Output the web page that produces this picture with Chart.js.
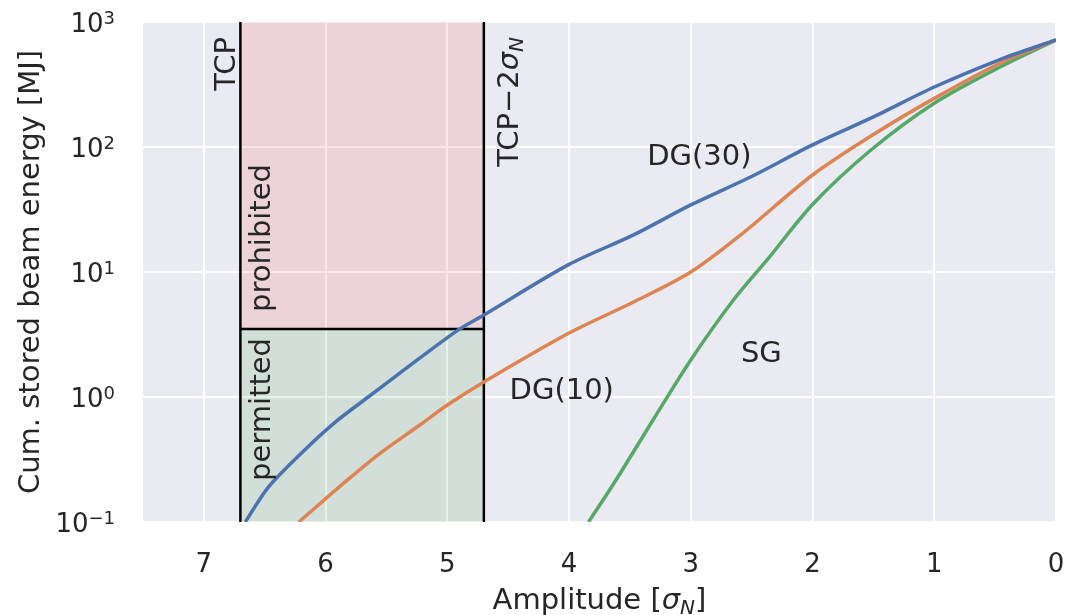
<!DOCTYPE html>
<html lang="en">
<head>
  <meta charset="UTF-8"/>
  <title>Cumulative stored beam energy</title>
  <script src="https://cdn.jsdelivr.net/npm/chart.js"></script>
  <style>
    body { margin: 0; background: #fff; }
    #wrap { width: 1068px; height: 615px; }
  </style>
</head>
<body>
  <div id="wrap"><canvas id="energyChart"></canvas></div>
  <script>
    // Curves (amplitude in sigma_N, energy in MJ)
    const dg30Amp    = [6.66, 6.47, 6.2, 5.93, 5.65, 5.38, 4.91, 4.70, 4.0, 3.47, 3.0, 2.51, 2.0, 1.5, 1.0, 0.46, 0];
    const dg30Energy = [0.1, 0.19, 0.355, 0.619, 1.0, 1.58, 3.44, 4.53, 11.5, 19.8, 34.4, 57.5, 104, 174, 302, 501, 718];

    const dg10Amp    = [6.22, 5.82, 5.55, 5.22, 5.0, 4.70, 4.0, 3.47, 3.0, 2.59, 2.0, 1.5, 1.0, 0.46, 0];
    const dg10Energy = [0.1, 0.217, 0.356, 0.603, 0.863, 1.32, 3.25, 5.75, 10.0, 19.8, 59.7, 126, 245, 468, 718];

    const sgAmp      = [3.84, 3.63, 3.31, 3.0, 2.65, 2.37, 2.0, 1.52, 1.0, 0.46, 0];
    const sgEnergy   = [0.1, 0.205, 0.655, 1.98, 5.97, 12.6, 34.7, 94.6, 224, 437, 718];

    const xTicks = [0, 1, 2, 3, 4, 5, 6, 7];
    const yTicks = [0.1, 1, 10, 100, 1000];
    const yTickExp = ['\u22121', '0', '1', '2', '3'];

    // collimator settings and energy limit
    const tcpAmp = 6.7;
    const tcp2Amp = 4.7;
    const energyLimit = 3.5;

    const FONT = '"DejaVu Sans", sans-serif';
    const TEXT = '#262626';

    function toPoints(xs, ys) {
      return xs.map((x, i) => ({ x: x, y: ys[i] }));
    }

    // draw a row of text runs (for sub/superscripts) at baseline y
    function drawRuns(ctx, runs, x, y, align) {
      const widths = runs.map(r => { ctx.font = r.font; return ctx.measureText(r.t).width; });
      const total = widths.reduce((a, b) => a + b, 0);
      let cx = align === 'center' ? x - total / 2 : align === 'right' ? x - total : x;
      ctx.textAlign = 'left';
      ctx.textBaseline = 'alphabetic';
      runs.forEach((r, i) => {
        ctx.font = r.font;
        ctx.fillText(r.t, cx, y + (r.dy || 0));
        cx += widths[i];
      });
    }

    function drawRotated(ctx, runs, x, y, align) {
      ctx.save();
      ctx.translate(x, y);
      ctx.rotate(-Math.PI / 2);
      drawRuns(ctx, runs, 0, 0, align);
      ctx.restore();
    }

    const big = '29px ' + FONT;
    const bigIt = 'italic 29px ' + FONT;
    const subIt = 'italic 20px ' + FONT;

    const decorations = {
      id: 'decorations',
      beforeDraw(chart) {
        const { ctx, chartArea: a } = chart;
        ctx.save();
        ctx.fillStyle = '#EAEAF2';
        ctx.fillRect(a.left, a.top, a.right - a.left, a.bottom - a.top);
        ctx.restore();
      },
      beforeDatasetsDraw(chart) {
        const { ctx, chartArea: a, scales: { x, y } } = chart;
        const x1 = x.getPixelForValue(tcpAmp);
        const x2 = x.getPixelForValue(tcp2Amp);
        const yl = y.getPixelForValue(energyLimit);
        ctx.save();
        ctx.fillStyle = 'rgba(255,0,0,0.1)';
        ctx.fillRect(x1, a.top, x2 - x1, yl - a.top);
        ctx.fillStyle = 'rgba(0,128,0,0.1)';
        ctx.fillRect(x1, yl, x2 - x1, a.bottom - yl);
        ctx.strokeStyle = '#000';
        ctx.lineWidth = 2.5;
        ctx.beginPath();
        ctx.moveTo(x1, a.top); ctx.lineTo(x1, a.bottom);
        ctx.moveTo(x2, a.top); ctx.lineTo(x2, a.bottom);
        ctx.moveTo(x1, yl); ctx.lineTo(x2, yl);
        ctx.stroke();
        ctx.restore();
      },
      afterDraw(chart) {
        const { ctx, chartArea: a, scales: { x, y } } = chart;
        ctx.save();
        ctx.fillStyle = TEXT;

        // y tick labels as powers of ten
        yTicks.forEach((v, i) => {
          const py = y.getPixelForValue(v);
          drawRuns(ctx, [
            { t: '10', font: '26px ' + FONT },
            { t: yTickExp[i], font: '18px ' + FONT, dy: -8 }
          ], 115, py + 10, 'right');
        });

        // axis titles
        drawRuns(ctx, [
          { t: 'Amplitude [', font: big },
          { t: '\u03c3', font: bigIt },
          { t: 'N', font: subIt, dy: 5 },
          { t: ']', font: big }
        ], (a.left + a.right) / 2, 609, 'center');
        drawRotated(ctx, [{ t: 'Cum. stored beam energy [MJ]', font: big }], 39, (a.top + a.bottom) / 2, 'center');

        // vertical labels next to the collimator lines
        const x1 = x.getPixelForValue(tcpAmp);
        const x2 = x.getPixelForValue(tcp2Amp);
        const yl = y.getPixelForValue(energyLimit);
        drawRotated(ctx, [{ t: 'TCP', font: big }], x1 - 5, a.top + 15, 'right');
        drawRotated(ctx, [
          { t: 'TCP\u22122', font: big },
          { t: '\u03c3', font: bigIt },
          { t: 'N', font: subIt, dy: 5 }
        ], x2 + 34, a.top + 15, 'right');
        drawRotated(ctx, [{ t: 'prohibited', font: big }], x1 + 30, yl - 17, 'left');
        drawRotated(ctx, [{ t: 'permitted', font: big }], x1 + 30, yl + 9, 'right');

        // curve labels
        ctx.font = big;
        ctx.textAlign = 'center';
        ctx.textBaseline = 'alphabetic';
        ctx.fillText('DG(30)', x.getPixelForValue(2.93), y.getPixelForValue(71.8));
        ctx.fillText('DG(10)', x.getPixelForValue(4.06), y.getPixelForValue(0.964));
        ctx.fillText('SG', x.getPixelForValue(2.42), y.getPixelForValue(1.905));
        ctx.restore();
      }
    };

    const lineStyle = {
      showLine: true,
      pointRadius: 0,
      borderWidth: 3.5,
      fill: false,
      tension: 0.3
    };

    new Chart(document.getElementById('energyChart'), {
      type: 'scatter',
      data: {
        datasets: [
          { ...lineStyle, label: 'DG(30)', data: toPoints(dg30Amp, dg30Energy), borderColor: '#4C72B0' },
          { ...lineStyle, label: 'DG(10)', data: toPoints(dg10Amp, dg10Energy), borderColor: '#DD8452' },
          { ...lineStyle, label: 'SG', data: toPoints(sgAmp, sgEnergy), borderColor: '#55A868' }
        ]
      },
      options: {
        responsive: true,
        maintainAspectRatio: false,
        animation: false,
        devicePixelRatio: 1,
        layout: { padding: { top: 22, right: 12, left: 0, bottom: 0 } },
        plugins: {
          legend: { display: false },
          tooltip: { enabled: false }
        },
        scales: {
          x: {
            type: 'linear',
            reverse: true,
            min: 0,
            max: 7.5,
            afterBuildTicks: s => { s.ticks = xTicks.map(v => ({ value: v })); },
            afterFit: s => { s.height = 93; },
            ticks: {
              color: TEXT,
              font: { family: FONT, size: 26 },
              padding: 28,
              maxRotation: 0,
              callback: v => String(v)
            },
            grid: { color: '#fff', lineWidth: 2, drawTicks: false },
            border: { display: false }
          },
          y: {
            type: 'logarithmic',
            min: 0.1,
            max: 1000,
            afterBuildTicks: s => { s.ticks = yTicks.map(v => ({ value: v })); },
            afterFit: s => { s.width = 143; },
            ticks: { display: false },
            grid: { color: '#fff', lineWidth: 2, drawTicks: false },
            border: { display: false }
          }
        }
      },
      plugins: [decorations]
    });
  </script>
</body>
</html>
